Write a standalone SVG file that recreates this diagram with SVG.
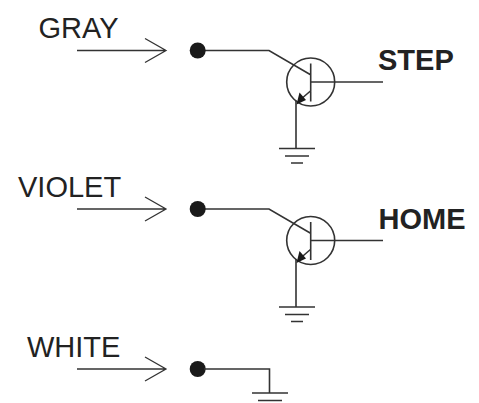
<svg xmlns="http://www.w3.org/2000/svg" xmlns:xlink="http://www.w3.org/1999/xlink" width="479" height="403" viewBox="0 0 479 403">
<style>
.w{fill:none;stroke:#333;stroke-width:1.6}
.a{fill:none;stroke:#333;stroke-width:1.3}
.t{font-family:"Liberation Sans",Arial,sans-serif;font-size:29px;fill:#222}
.b{font-weight:bold}
.d{fill:#1a1a1a}
</style>
<defs>
<g id="arrow"><path class="a" d="M77 0H166M145-12L166 0L145 12"/></g>
<g id="gnd"><path class="w" d="M-17.500 0H18.500M-11.500 7.500H12.500M-5.500 14.500H6.500"/></g>
<g id="tr">
<path class="w" d="M204.500 0H269L311 24.500M310.700 13V51M311 31.500H383M311 40L300 49.500M296 50V98"/>
<circle class="w" cx="310.700" cy="31.500" r="24"/>
<path class="d" d="M296.500 54L299.500 42L306 49.500Z"/>
<circle class="d" cx="197.700" cy="0" r="8"/>
</g>
</defs>
<rect width="479" height="403" fill="#fff"/>
<g id="connectors">
<use xlink:href="#arrow" href="#arrow" y="50.500"/>
<use xlink:href="#arrow" href="#arrow" y="209"/>
<use xlink:href="#arrow" href="#arrow" y="369"/>
</g>
<g id="gray"><text class="t" x="38.500" y="37.500">GRAY</text></g>
<g id="step-transistor"><use xlink:href="#tr" href="#tr" y="50.500"/><use xlink:href="#gnd" href="#gnd" x="296.500" y="148.500"/></g>
<g id="step"><text class="t b" x="378" y="69.500">STEP</text></g>
<g id="violet"><text class="t" x="18" y="197">VIOLET</text></g>
<g id="home-transistor"><use xlink:href="#tr" href="#tr" y="209"/><use xlink:href="#gnd" href="#gnd" x="296.500" y="307"/></g>
<g id="home"><text class="t b" x="378.500" y="229">HOME</text></g>
<g id="white"><text class="t" x="27" y="357">WHITE</text></g>
<g id="white-ground"><circle class="d" cx="197.700" cy="369" r="8"/><path class="w" d="M204 369H269.500V393"/><use xlink:href="#gnd" href="#gnd" x="269.500" y="393"/></g>
</svg>
